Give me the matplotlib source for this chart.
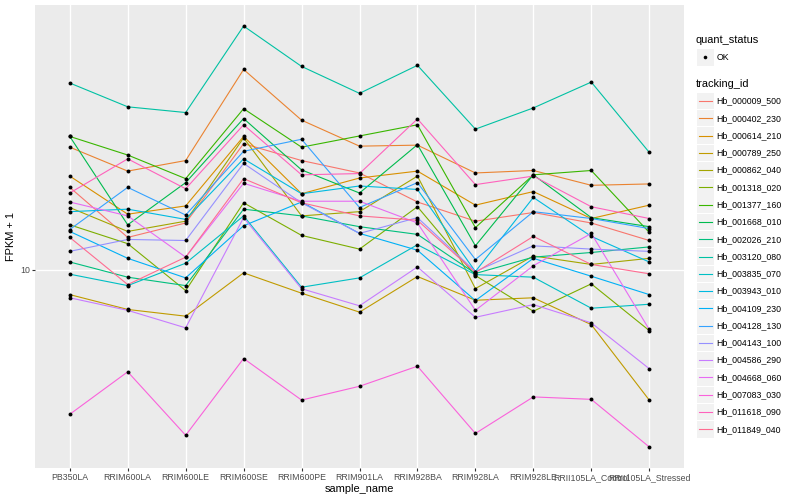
import numpy as np
import matplotlib
matplotlib.use("Agg")
import matplotlib.pyplot as plt
from matplotlib.lines import Line2D
from matplotlib.patches import Rectangle
from matplotlib.ticker import NullLocator

plt.rcParams['font.family'] = ['Liberation Sans', 'DejaVu Sans']

samples = ["PB350LA", "RRIM600LA", "RRIM600LE", "RRIM600SE", "RRIM600PE", "RRIM901LA",
           "RRIM928BA", "RRIM928LA", "RRIM928LE", "RRII105LA_Control", "RRII105LA_Stressed"]

tracking_ids = ["Hb_000009_500", "Hb_000402_230", "Hb_000614_210", "Hb_000789_250",
                "Hb_000862_040", "Hb_001318_020", "Hb_001377_160", "Hb_001668_010",
                "Hb_002026_210", "Hb_003120_080", "Hb_003835_070", "Hb_003943_010",
                "Hb_004109_230", "Hb_004128_130", "Hb_004143_100", "Hb_004586_290",
                "Hb_004668_060", "Hb_007083_030", "Hb_011618_090", "Hb_011849_040"]

# FPKM + 1, one list per gene, in sample order
hb_000009_500 = [18.8, 12.8, 14.3, 26.3, 23.1, 21.0, 16.8, 14.5, 15.5, 14.3, 12.5]
hb_000402_230 = [25.6, 21.3, 23.1, 46.5, 31.5, 25.8, 26.0, 21.0, 21.4, 19.1, 19.3]
hb_000614_210 = [20.5, 15.3, 16.3, 27.8, 17.9, 20.2, 21.3, 16.4, 18.2, 14.8, 16.4]
hb_000789_250 = [8.25, 7.36, 6.99, 9.75, 8.34, 7.21, 9.48, 7.90, 8.05, 6.55, 3.67]
hb_000862_040 = [16.1, 13.4, 14.5, 27.5, 15.1, 15.6, 20.5, 8.64, 11.1, 10.4, 10.9]
hb_001318_020 = [14.1, 12.2, 8.51, 16.7, 13.0, 11.7, 16.2, 9.55, 7.26, 8.96, 6.26]
hb_001377_160 = [27.8, 24.1, 20.1, 34.4, 25.6, 27.9, 30.4, 13.8, 20.7, 21.4, 13.3]
hb_001668_010 = [27.8, 14.1, 19.5, 31.9, 21.5, 18.0, 26.1, 12.0, 20.7, 14.9, 13.9]
hb_002026_210 = [10.6, 9.43, 8.84, 15.9, 15.1, 13.9, 13.1, 9.70, 11.0, 11.4, 11.9]
hb_003120_080 = [41.9, 34.9, 33.4, 64.9, 47.6, 38.7, 48.0, 29.4, 34.6, 42.2, 24.6]
hb_003835_070 = [9.65, 8.84, 10.5, 15.1, 8.73, 9.38, 12.1, 9.62, 9.43, 7.43, 7.66]
hb_003943_010 = [15.6, 15.9, 14.7, 23.4, 17.9, 19.0, 18.5, 9.85, 17.4, 12.9, 10.6]
hb_004109_230 = [13.4, 10.9, 9.38, 14.0, 16.8, 13.2, 11.6, 7.88, 10.9, 9.50, 8.25]
hb_004128_130 = [13.6, 18.8, 15.2, 24.8, 27.2, 16.1, 19.5, 10.8, 15.6, 14.8, 13.7]
hb_004143_100 = [11.5, 12.6, 12.5, 22.6, 16.7, 13.2, 14.9, 9.85, 12.0, 11.7, 11.5]
hb_004586_290 = [8.05, 7.31, 6.39, 14.9, 8.63, 7.57, 10.2, 6.93, 7.64, 6.64, 4.67]
hb_004668_060 = [16.8, 15.1, 11.0, 19.4, 16.9, 16.9, 14.3, 7.31, 10.3, 13.2, 6.31]
hb_007083_030 = [3.29, 4.56, 2.80, 5.05, 3.67, 4.08, 4.76, 2.84, 3.76, 3.69, 2.56]
hb_011618_090 = [18.0, 23.4, 18.6, 30.4, 20.7, 20.9, 31.8, 19.2, 20.5, 16.2, 14.8]
hb_011849_040 = [12.8, 8.91, 11.0, 20.1, 16.7, 15.1, 14.6, 9.77, 12.9, 10.4, 9.68]

series = [hb_000009_500, hb_000402_230, hb_000614_210, hb_000789_250, hb_000862_040,
          hb_001318_020, hb_001377_160, hb_001668_010, hb_002026_210, hb_003120_080,
          hb_003835_070, hb_003943_010, hb_004109_230, hb_004128_130, hb_004143_100,
          hb_004586_290, hb_004668_060, hb_007083_030, hb_011618_090, hb_011849_040]

# ggplot hue palette, 20 levels
colors = ["#F8766D", "#EA8331", "#D89000", "#C09B00", "#A3A500", "#7CAE00", "#39B600",
          "#00BB4E", "#00BF7D", "#00C1A3", "#00BFC4", "#00BAE0", "#00B0F6", "#35A2FF",
          "#9590FF", "#C77CFF", "#E76BF3", "#FA62DB", "#FF62BC", "#FF6C91"]

W, H = 800, 500
fig = plt.figure(figsize=(8, 5), dpi=100)
ax = fig.add_axes([35 / W, 1 - 468 / H, (684 - 35) / W, (468 - 5) / H])

x = np.arange(1, len(samples) + 1)
for vals, col in zip(series, colors):
    ax.plot(x, vals, color=col, lw=0.8, zorder=2)
for vals in series:
    ax.scatter(x, vals, s=8, c="black", linewidths=0, zorder=3)

ax.set_yscale("log")
allv = np.concatenate([np.array(s) for s in series])
pad = np.log10(allv.max() / allv.min()) * 0.05
ax.set_ylim(allv.min() / 10 ** pad, allv.max() * 10 ** pad)
ax.set_xlim(0.4, len(samples) + 0.6)
ax.set_xticks(x, samples)
ax.set_yticks([10], ["10"])
ax.yaxis.set_minor_locator(NullLocator())

ax.set_facecolor("#EBEBEB")
for s in ax.spines.values():
    s.set_visible(False)
ax.grid(True, color="white", lw=1.0)
ax.set_axisbelow(True)
ax.tick_params(length=2.2, width=0.8, color="#333333", labelcolor="#4D4D4D",
               labelsize=6.3, pad=1.5)
ax.set_xlabel("sample_name", fontsize=7.9, labelpad=1.5)
ax.set_ylabel("FPKM + 1", fontsize=7.9, labelpad=3)


# legend drawn by hand, ggplot style
def fx(px):
    return px / W


def fy(py):
    return 1 - py / H


fig.text(fx(696), fy(40), "quant_status", fontsize=7.9, va="center", ha="left")
fig.add_artist(Rectangle((fx(697), fy(65.5)), 16.5 / W, 16.5 / H, transform=fig.transFigure,
                         facecolor="#F2F2F2", edgecolor="none"))
fig.add_artist(Line2D([fx(705.2)], [fy(57.2)], marker="o", color="black", markersize=2.6,
                      markeredgewidth=0, transform=fig.transFigure))
fig.text(fx(716.5), fy(57.2), "OK", fontsize=6.3, va="center", ha="left")

fig.text(fx(696), fy(84), "tracking_id", fontsize=7.9, va="center", ha="left")
for i, (tid, col) in enumerate(zip(tracking_ids, colors)):
    cy = 101 + i * 17.28
    fig.add_artist(Rectangle((fx(697), fy(cy + 8.2)), 16.5 / W, 16.4 / H,
                             transform=fig.transFigure, facecolor="#F2F2F2", edgecolor="none"))
    fig.add_artist(Line2D([fx(698.5), fx(712)], [fy(cy), fy(cy)], color=col, lw=0.8,
                          transform=fig.transFigure))
    fig.text(fx(716.5), fy(cy), tid, fontsize=6.3, va="center", ha="left")

fig.savefig("out.png", dpi=100)
